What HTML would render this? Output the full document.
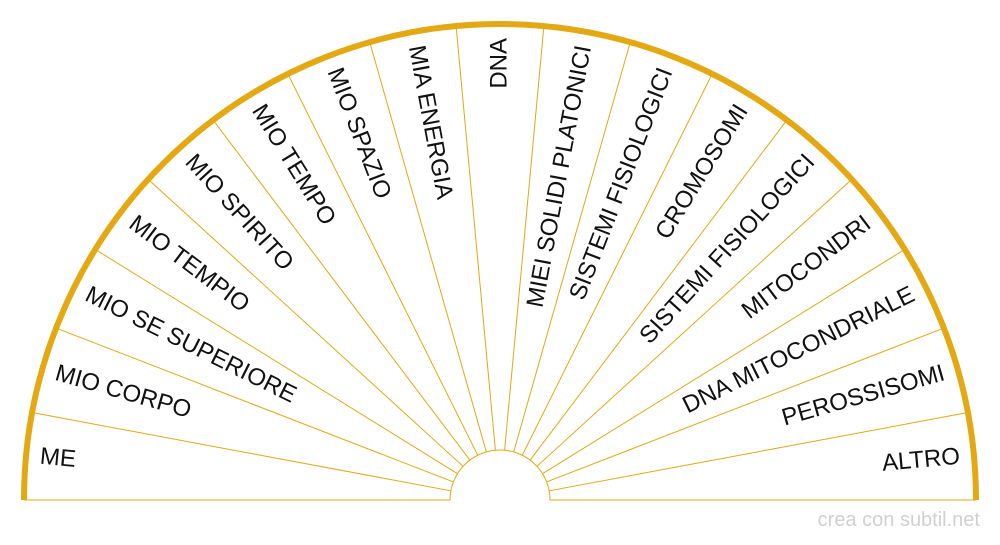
<!DOCTYPE html>
<html><head><meta charset="utf-8"><style>body{margin:0;background:#fff}</style></head><body>
<svg width="1000" height="540" viewBox="0 0 1000 540" xmlns="http://www.w3.org/2000/svg" font-family="Liberation Sans, sans-serif">
<rect width="1000" height="540" fill="#fff"/>
<g id="g" fill="none" stroke="#e3a812"></g>
<text x="980" y="526" font-size="20" fill="#d0d0d0" text-anchor="end">crea con subtil.net</text>
<g id="t" font-size="24" fill="#111"></g>
</svg>
<script>
var ns="http://www.w3.org/2000/svg",g=document.getElementById("g"),t=document.getElementById("t");
function el(n,a,p){var e=document.createElementNS(ns,n);for(var k in a)e.setAttribute(k,a[k]);p.appendChild(e);return e;}
var cx=500,cy=500,R=476,r=50;
var labels=["ME","MIO CORPO","MIO SE SUPERIORE","MIO TEMPIO","MIO SPIRITO","MIO TEMPO","MIO SPAZIO","MIA ENERGIA","DNA","MIEI SOLIDI PLATONICI","SISTEMI FISIOLOGICI","CROMOSOMI","SISTEMI FISIOLOGICI","MITOCONDRI","DNA MITOCONDRIALE","PEROSSISOMI","ALTRO"];
var n=labels.length,step=180/n;
for(var i=1;i<n;i++){var a=i*step*Math.PI/180;el("line",{x1:cx-r*Math.cos(a),y1:cy-r*Math.sin(a),x2:cx-R*Math.cos(a),y2:cy-R*Math.sin(a),"stroke-width":1},g);}
el("line",{x1:24,y1:500,x2:450,y2:500,"stroke-width":1},g);
el("line",{x1:550,y1:500,x2:976,y2:500,"stroke-width":1},g);
el("path",{d:"M450 500 A50 50 0 0 1 550 500","stroke-width":1},g);
el("path",{d:"M24 500 A476 476 0 0 1 976 500","stroke-width":6},g);
for(var i=0;i<n;i++){var d=step/2+step*i,a=d*Math.PI/180,rr=462;
var x=cx-rr*Math.cos(a),y=cy-rr*Math.sin(a);
var left=d<90;
var e=el("text",{x:x,y:y,"text-anchor":left?"start":"end","dominant-baseline":"middle",transform:"rotate("+(left?d:d-180)+" "+x+" "+y+")"},t);
e.textContent=labels[i];}
</script>
</body></html>
